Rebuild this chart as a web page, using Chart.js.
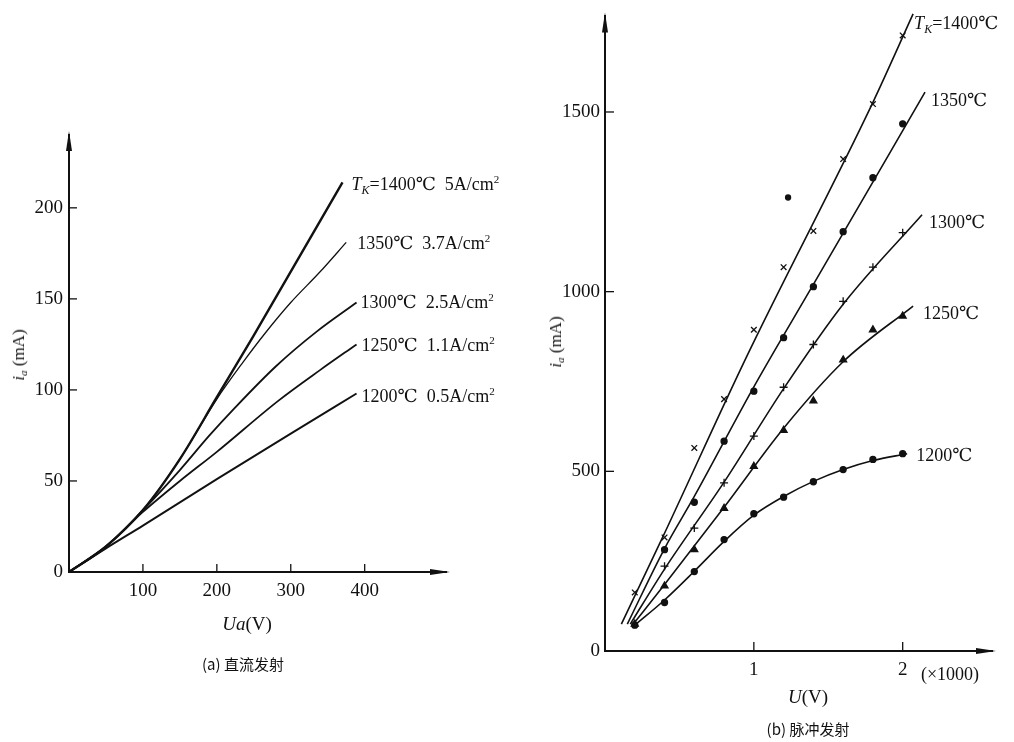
<!DOCTYPE html>
<html>
<head>
<meta charset="utf-8">
<script src="https://cdn.jsdelivr.net/npm/chart.js@4.4.1/dist/chart.umd.min.js"></script>
<style>
  html, body { margin: 0; padding: 0; background: #fff; }
  #page { position: relative; width: 1014px; height: 742px; overflow: hidden;
          font-family: "Liberation Serif", "DejaVu Serif", serif; color: #111; }
  canvas { position: absolute; top: 0; }
  #dc { left: 0; }
  #pulse { left: 530px; }
  .lbl { position: absolute; white-space: nowrap; font-size: 18px; line-height: 1; transform: translateY(-50%); }
  .lbl sub { font-size: 12px; vertical-align: -4px; }
  .lbl sup { font-size: 11px; vertical-align: 7px; }
  .ytitle { position: absolute; transform: translate(-50%, -50%) rotate(-90deg); font-size: 17px; white-space: nowrap; }
  .ytitle sub { font-size: 11px; vertical-align: -3px; }
  .xtitle { position: absolute; transform: translate(-50%, -50%); font-size: 19px; white-space: nowrap; }
  .cap { position: absolute; transform: translate(-50%, -50%); font-size: 15px; white-space: nowrap;
         font-family: "Noto Sans CJK SC", "Liberation Serif", serif; }
</style>
</head>
<body>
<div id="page">
  <canvas id="dc" width="530" height="742"></canvas>
  <canvas id="pulse" width="484" height="742"></canvas>

  <div class="ytitle" style="left:19px;top:355px"><i>i</i><sub><i>a</i></sub> (mA)</div>
  <div class="xtitle" style="left:247px;top:624px"><i>Ua</i>(V)</div>
  <div class="cap" style="left:243px;top:663px">(a) 直流发射</div>

  <div class="ytitle" style="left:556px;top:342px"><i>i</i><sub><i>a</i></sub> (mA)</div>
  <div class="xtitle" style="left:808px;top:697px"><i>U</i>(V)</div>
  <div class="xtitle" style="left:950px;top:674px;font-size:18px">(×1000)</div>
  <div class="cap" style="left:808px;top:728px">(b) 脉冲发射</div>
</div>
<script>
// (a) DC emission: anode current (mA) vs anode voltage (V)
const dcV1400 = [0, 50, 100, 150, 200, 250, 300, 340, 370];
const dcI1400 = [0, 14, 34, 62, 96, 130, 165, 193, 214];
const dcV1350 = [0, 50, 100, 150, 200, 235, 265, 300, 340, 375];
const dcI1350 = [0, 14, 34, 62, 95, 115, 131, 148, 165, 181];
const dcV1300 = [0, 50, 100, 150, 190, 224, 280, 335, 389];
const dcI1300 = [0, 14, 34, 56, 75, 90, 113, 132, 148];
const dcV1250 = [0, 50, 100, 150, 200, 283, 340, 389];
const dcI1250 = [0, 14, 33, 50, 66, 94, 111, 125];
const dcV1200 = [0, 50, 100, 200, 300, 389];
const dcI1200 = [0, 13, 25.5, 51, 76, 98];
const dcXTicks = [100, 200, 300, 400];
const dcYTicks = [0, 50, 100, 150, 200];
const dcLabels = [
  '<i>T</i><sub><i>K</i></sub>=1400℃&nbsp; 5A/cm<sup>2</sup>',
  '1350℃&nbsp; 3.7A/cm<sup>2</sup>',
  '1300℃&nbsp; 2.5A/cm<sup>2</sup>',
  '1250℃&nbsp; 1.1A/cm<sup>2</sup>',
  '1200℃&nbsp; 0.5A/cm<sup>2</sup>'
];

// (b) pulse emission: voltage in kV (x1000 V), current in mA
const puU = [0.2, 0.4, 0.6, 0.8, 1.0, 1.2, 1.4, 1.6, 1.8, 2.0];
const pu1400 = [163, 316, 565, 701, 894, 1068, 1169, 1369, 1522, 1713];
const pu1350 = [null, 282, 414, 584, 723, 872, 1014, 1167, 1317, 1467];
const pu1300 = [null, 236, 342, 468, 598, 734, 853, 973, 1068, 1164];
const pu1250 = [75, 181, 282, 397, 514, 614, 696, 810, 894, 932];
const pu1200 = [72, 135, 221, 310, 382, 428, 471, 505, 533, 549];
const puStrayU = [1.23];
const puStrayI = [1262];
const fit1400U = [0.11, 0.39, 0.95, 1.8, 2.07];
const fit1400I = [75, 319, 818, 1527, 1773];
const fit1350U = [0.15, 0.4, 0.6, 1.0, 1.4, 2.15];
const fit1350I = [75, 285, 430, 735, 1020, 1555];
const fit1300U = [0.17, 0.4, 0.8, 1.2, 1.6, 2.13];
const fit1300I = [75, 228, 470, 730, 965, 1214];
const fit1250U = [0.19, 0.4, 0.8, 1.2, 1.6, 2.07];
const fit1250I = [75, 185, 400, 620, 805, 960];
const fit1200U = [0.2, 0.4, 0.6, 0.8, 1.0, 1.2, 1.4, 1.6, 1.8, 2.03];
const fit1200I = [72, 142, 222, 305, 378, 430, 472, 505, 530, 549];
const puXTicks = [1, 2];
const puYTicks = [0, 500, 1000, 1500];
const puLabels = [
  '<i>T</i><sub><i>K</i></sub>=1400℃',
  '1350℃',
  '1300℃',
  '1250℃',
  '1200℃'
];

const serif = '"Liberation Serif", "DejaVu Serif", serif';
const ink = '#111';
const pts = (xs, ys) => xs.map((x, k) => ({ x, y: ys[k] }));

// inside tick marks + arrow heads on both axes
const axisDeco = (xMarks, yMarks, len) => ({
  id: 'axisDeco',
  afterDraw(chart) {
    const { ctx, chartArea: a, scales: { x, y } } = chart;
    ctx.save();
    ctx.strokeStyle = ink; ctx.fillStyle = ink; ctx.lineWidth = 1.3;
    yMarks.forEach(v => {
      const py = y.getPixelForValue(v);
      ctx.beginPath(); ctx.moveTo(a.left, py); ctx.lineTo(a.left + len, py); ctx.stroke();
    });
    xMarks.forEach(v => {
      const px = x.getPixelForValue(v);
      ctx.beginPath(); ctx.moveTo(px, a.bottom); ctx.lineTo(px, a.bottom - len); ctx.stroke();
    });
    ctx.beginPath();
    ctx.moveTo(a.left, a.top - 4); ctx.lineTo(a.left - 3, a.top + 16); ctx.lineTo(a.left + 3, a.top + 16);
    ctx.closePath(); ctx.fill();
    ctx.beginPath();
    ctx.moveTo(a.right + 4, a.bottom); ctx.lineTo(a.right - 16, a.bottom - 3); ctx.lineTo(a.right - 16, a.bottom + 3);
    ctx.closePath(); ctx.fill();
    ctx.restore();
  }
});

// puts the html curve labels next to the end of each curve
const curveLabels = (texts, ends, offs) => {
  const page = document.getElementById('page');
  const els = texts.map(t => {
    const d = document.createElement('div');
    d.className = 'lbl'; d.innerHTML = t; page.appendChild(d);
    return d;
  });
  return {
    id: 'curveLabels',
    afterRender(chart) {
      const { x, y } = chart.scales;
      els.forEach((el, k) => {
        const [ex, ey] = ends[k];
        el.style.left = (chart.canvas.offsetLeft + x.getPixelForValue(ex) + offs[k][0]) + 'px';
        el.style.top = (y.getPixelForValue(ey) + offs[k][1]) + 'px';
      });
    }
  };
};

const baseScale = (min, max, ticks, pad, fit) => ({
  type: 'linear', min, max,
  afterBuildTicks: s => { s.ticks = ticks.map(v => ({ value: v })); },
  afterFit: fit,
  grid: { drawOnChartArea: false, drawTicks: false },
  border: { display: true, color: ink, width: 2 },
  ticks: { color: ink, padding: pad, font: { family: serif, size: 19 }, callback: v => String(v) }
});

// ---------- (a) ----------
const dcCurves = [
  [dcV1400, dcI1400, 2.4],
  [dcV1350, dcI1350, 1.3],
  [dcV1300, dcI1300, 1.8],
  [dcV1250, dcI1250, 1.8],
  [dcV1200, dcI1200, 1.9]
];
new Chart(document.getElementById('dc'), {
  type: 'scatter',
  data: {
    datasets: dcCurves.map(([v, i, w]) => ({
      data: pts(v, i), showLine: true, borderColor: ink, borderWidth: w,
      pointRadius: 0, cubicInterpolationMode: 'monotone', clip: false
    }))
  },
  options: {
    responsive: false, animation: false, devicePixelRatio: 1,
    layout: { padding: { left: 0, right: 84, top: 135, bottom: 0 } },
    plugins: { legend: { display: false }, tooltip: { enabled: false } },
    scales: {
      x: baseScale(0, 510, dcXTicks, 8, s => { s.height = 170; }),
      y: baseScale(0, 240, dcYTicks, 6, s => { s.width = 69; })
    }
  },
  plugins: [
    axisDeco(dcXTicks, dcYTicks.slice(1), 8),
    curveLabels(dcLabels,
      dcCurves.map(([v, i]) => [v[v.length - 1], i[i.length - 1]]),
      [[9, 3], [11, 0], [4, -2], [5, 0], [5, 1]])
  ]
});

// ---------- (b) ----------
const puFits = [
  [fit1400U, fit1400I], [fit1350U, fit1350I], [fit1300U, fit1300I],
  [fit1250U, fit1250I], [fit1200U, fit1200I]
];
const puMarks = [
  [puU, pu1400, 'crossRot', 4],
  [puU, pu1350, 'circle', 3],
  [puU, pu1300, 'cross', 4],
  [puU, pu1250, 'triangle', 4],
  [puU, pu1200, 'circle', 3],
  [puStrayU, puStrayI, 'circle', 2.5]
];
new Chart(document.getElementById('pulse'), {
  type: 'scatter',
  data: {
    datasets: [
      ...puFits.map(([u, i]) => ({
        data: pts(u, i), showLine: true, borderColor: ink, borderWidth: 1.6,
        pointRadius: 0, cubicInterpolationMode: 'monotone', clip: false
      })),
      ...puMarks.map(([u, i, style, r]) => ({
        data: pts(u, i).filter(p => p.y !== null), showLine: false,
        pointStyle: style, pointRadius: r, borderWidth: 1.3,
        borderColor: ink, backgroundColor: ink, clip: false
      }))
    ]
  },
  options: {
    responsive: false, animation: false, devicePixelRatio: 1,
    layout: { padding: { left: 0, right: 22, top: 2, bottom: 0 } },
    plugins: { legend: { display: false }, tooltip: { enabled: false } },
    scales: {
      x: baseScale(0, 2.6, puXTicks, 8, s => { s.height = 91; }),
      y: baseScale(0, 1766, puYTicks, 5, s => { s.width = 75; })
    }
  },
  plugins: [
    axisDeco(puXTicks, puYTicks.slice(1), 9),
    curveLabels(puLabels,
      puFits.map(([u, i]) => [u[u.length - 1], i[i.length - 1]]),
      [[1, 10], [6, 8], [7, 7], [10, 7], [9, 1]])
  ]
});
</script>
</body>
</html>
